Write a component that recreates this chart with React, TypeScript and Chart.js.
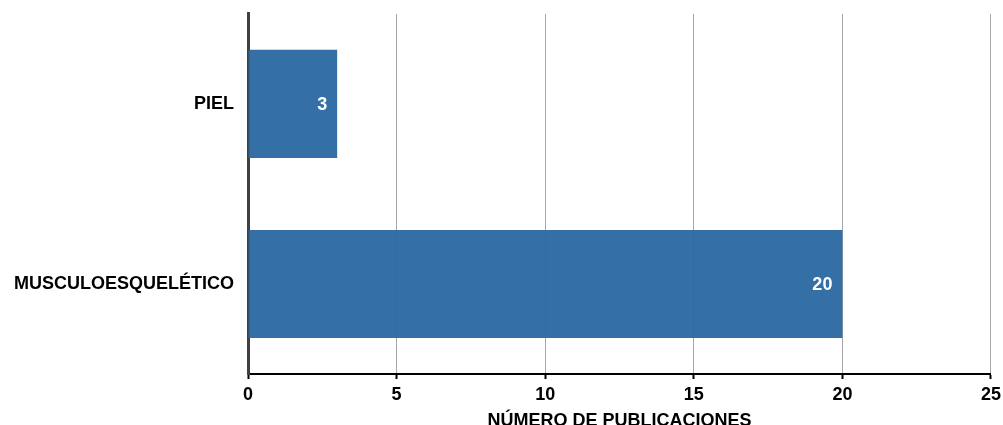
import React, { useEffect, useRef } from "react";
import { Chart, registerables } from "chart.js";

Chart.register(...registerables);

const categories = ["PIEL", "MUSCULOESQUELÉTICO"];
const publicaciones = [3, 20];
const xTicks = [0, 5, 10, 15, 20, 25];
const xTitle = "NÚMERO DE PUBLICACIONES";

const FONT = "'Liberation Sans', Arial, sans-serif";

const valueLabels = {
  id: "valueLabels",
  afterDatasetsDraw(chart: any) {
    const ctx = chart.ctx;
    const meta = chart.getDatasetMeta(0);
    ctx.save();
    ctx.fillStyle = "#ffffff";
    ctx.font = `bold 18px ${FONT}`;
    ctx.textAlign = "right";
    ctx.textBaseline = "middle";
    meta.data.forEach((bar: any, i: number) => {
      const v = chart.data.datasets[0].data[i];
      ctx.fillText(String(v), bar.x - 10, bar.y + 1);
    });
    ctx.restore();
  },
};

export default function App() {
  const ref = useRef<HTMLCanvasElement>(null);
  useEffect(() => {
    if (!ref.current) return;
    const chart = new Chart(ref.current, {
      type: "bar",
      data: {
        labels: categories,
        datasets: [
          {
            data: publicaciones,
            backgroundColor: "rgba(41,104,161,0.95)",
            borderWidth: 0,
            categoryPercentage: 1,
            barPercentage: 0.6,
          },
        ],
      },
      options: {
        indexAxis: "y",
        animation: false,
        responsive: false,
        maintainAspectRatio: false,
        layout: { padding: { left: 0, right: 0, top: 1, bottom: 0 } },
        plugins: { legend: { display: false }, tooltip: { enabled: false } },
        scales: {
          x: {
            min: 0,
            max: 25,
            afterBuildTicks: (axis: any) => {
              axis.ticks = xTicks.map((v) => ({ value: v }));
            },
            grid: {
              color: (c: any) => (c.tick && c.tick.value === 0 ? "rgba(0,0,0,0)" : "#a6a6a6"),
              lineWidth: 1,
              tickColor: "#000000",
              tickLength: 5,
              tickWidth: 2,
            },
            border: { color: "#000000", width: 2 },
            ticks: {
              color: "#000000",
              font: { family: FONT, size: 18, weight: "bold", lineHeight: 1 },
              padding: 7,
              maxRotation: 0,
            },
            title: {
              display: true,
              text: xTitle,
              color: "#000000",
              font: { family: FONT, size: 18, weight: "bold", lineHeight: 1 },
              padding: { top: 1, bottom: 0 },
            },
          },
          y: {
            grid: { display: false, drawTicks: false },
            border: { color: "#404040", width: 3 },
            ticks: {
              color: "#000000",
              font: { family: FONT, size: 18, weight: "bold" },
              padding: 14,
            },
          },
        },
      },
      plugins: [valueLabels],
    });
    return () => chart.destroy();
  }, []);
  return (
    <div style={{ position: "fixed", left: 0, top: 0, width: 1003, height: 425, overflow: "hidden", background: "#fff" }}>
      <canvas
        ref={ref}
        width={1008}
        height={441}
        style={{ display: "block", position: "absolute", left: 0, top: -11 }}
      />
    </div>
  );
}
